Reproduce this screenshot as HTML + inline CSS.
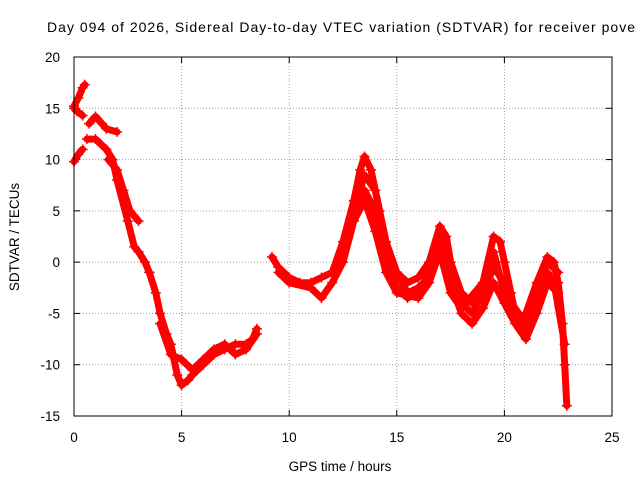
<!DOCTYPE html>
<html><head><meta charset="utf-8"><style>
html,body{margin:0;padding:0;background:#fff}
svg{display:block;font-family:"Liberation Sans",Arial,sans-serif}
</style></head><body>
<svg id="chart" width="640" height="480" viewBox="0 0 640 480">
<rect x="0" y="0" width="640" height="480" fill="#fff"/>
<text x="47" y="32" font-size="14" textLength="588" lengthAdjust="spacing" fill="#000">Day 094 of 2026, Sidereal Day-to-day VTEC variation (SDTVAR) for receiver pove</text>
<g id="grid"></g>
<g id="axes"></g>
<g id="series"></g>
<rect x="74" y="57" width="538" height="359" fill="none" stroke="#000" stroke-width="1"/>
<text x="340" y="471" font-size="13.5" text-anchor="middle">GPS time / hours</text>
<text x="0" y="0" font-size="13.5" text-anchor="middle" transform="translate(19,237) rotate(-90)">SDTVAR / TECUs</text>
</svg>
<script>
const xTicks=[0,5,10,15,20,25];
const yTicks=[-15,-10,-5,0,5,10,15,20];
const seriesA=[[0,9.8],[0.2,10.5],[0.4,11]];
const seriesB=[[0,15],[0.15,14.7],[0.4,14.3]];
const seriesC=[[0,15.2],[0.2,16],[0.4,17],[0.5,17.3]];
const seriesD=[[0.6,12],[1,12],[1.5,11],[1.8,10],[2,8],[2.5,4],[2.8,1.5],[3,1],[3.3,0],[3.5,-1]];
const seriesE=[[0.7,13.5],[1,14.2],[1.3,13.5],[1.5,13],[2,12.7]];
const seriesF=[[1.6,10],[2,9],[2.3,7],[2.6,5],[3,4]];
const seriesG=[[3.5,-1],[3.8,-3],[4,-5],[4.3,-7],[4.5,-8],[4.8,-11],[5,-12],[5.3,-11.5],[5.5,-11],[6,-10],[6.5,-9],[7,-8.5],[7.5,-8],[8,-8],[8.3,-7.5],[8.5,-6.5]];
const seriesH=[[4,-6],[4.5,-9],[5,-9.5],[5.5,-10.5],[6,-9.5],[6.5,-8.5],[7,-8],[7.5,-9],[8,-8.5],[8.5,-7]];
const seriesI=[[9.2,0.5],[9.5,-0.5],[10,-1.5],[10.5,-2],[11,-2],[11.5,-1.5],[12,-1],[12.5,2],[13,6],[13.3,9],[13.5,10.3],[13.8,9],[14.2,5],[14.5,1],[15,-1],[15.5,-2],[16,-1.5],[16.5,0],[17,3.5],[17.3,2.5],[17.5,0],[18,-3],[18.5,-4],[19,-2],[19.5,2.5],[19.8,2],[20,0],[20.3,-3],[20.6,-6],[21,-5],[21.5,-2],[22,0.5],[22.3,0],[22.5,-2],[22.7,-6],[22.8,-10],[22.9,-14]];
const seriesJ=[[9.5,-1],[10,-2],[11,-2.5],[11.5,-3.5],[12,-2],[12.5,0],[13,4],[13.5,7],[14,5],[14.5,0],[15,-2.5],[15.5,-3.5],[16,-3],[16.5,-1],[17,3],[17.5,-1],[18,-4],[18.5,-5],[19,-3],[19.5,-0.5],[20,-2],[20.5,-5],[21,-7],[21.5,-4],[22,-1],[22.3,-2],[22.8,-8]];
const seriesK=[[12.5,1],[13,5],[13.5,8.5],[14,7],[14.5,2],[15,-1],[15.5,-3],[16,-2.5],[16.5,-1.5],[17,2],[17.5,-2],[18,-5],[18.5,-6],[19,-4.5],[19.5,-2],[20,-4],[20.5,-6],[21,-7.5],[21.5,-5],[22,-2],[22.5,-3]];
const seriesL=[[13,4],[13.5,6],[14,3],[14.5,-1],[15,-3],[16,-3.5],[16.5,-2],[17,1],[17.5,-3],[18,-4.5],[19,-2],[19.5,1],[20,-3],[21,-6],[22,0],[22.5,-1]];
const allSeries=[seriesA,seriesB,seriesC,seriesD,seriesE,seriesF,seriesG,seriesH,seriesI,seriesJ,seriesK,seriesL];

const NS="http://www.w3.org/2000/svg";
const X0=74,X1=612,Y0=416,Y1=57;
function sx(v){return X0+(v-0)/(25-0)*(X1-X0);}
function sy(v){return Y0-(v-(-15))/(20-(-15))*(Y0-Y1);}
const grid=document.getElementById('grid'),axes=document.getElementById('axes'),ser=document.getElementById('series');
function mk(tag,attrs,parent){const e=document.createElementNS(NS,tag);for(const k in attrs)e.setAttribute(k,attrs[k]);parent.appendChild(e);return e;}
xTicks.forEach(t=>{
  const x=sx(t);
  if(t>0&&t<25){const g=mk('line',{x1:x,x2:x,y1:Y1,y2:Y0,stroke:'#a0a0a0','stroke-dasharray':'1,2','stroke-width':1},grid);
  
  }
  const a=mk('line',{x1:x,x2:x,y1:Y0,y2:Y0-6,stroke:'#000'},axes);
  
  
  const b=mk('line',{x1:x,x2:x,y1:Y1,y2:Y1+6,stroke:'#000'},axes);
  
  
  const l=mk('text',{x:x,y:Y0+26,'font-size':13.5,'text-anchor':'middle'},axes);
  l.textContent=t;
  
  
});
yTicks.forEach(t=>{
  const y=sy(t);
  if(t>-15&&t<20){const g=mk('line',{x1:X0,x2:X1,y1:y,y2:y,stroke:'#a0a0a0','stroke-dasharray':'1,2','stroke-width':1},grid);
  
  }
  const a=mk('line',{x1:X0,x2:X0+6,y1:y,y2:y,stroke:'#000'},axes);
  
  
  const b=mk('line',{x1:X1,x2:X1-6,y1:y,y2:y,stroke:'#000'},axes);
  
  
  const l=mk('text',{x:X0-14,y:y+5,'font-size':13.5,'text-anchor':'end'},axes);
  l.textContent=t;
  
  
});
allSeries.forEach((s,i)=>{
  const pts=s.map(p=>sx(p[0]).toFixed(1)+','+sy(p[1]).toFixed(1)).join(' ');
  const pl=mk('polyline',{points:pts,fill:'none',stroke:'#f00','stroke-width':7,'stroke-linejoin':'round','stroke-linecap':'round'},ser);
  
  
  s.forEach(p=>{
    const x=sx(p[0]),y=sy(p[1]);
    const m=mk('path',{d:`M${x-5},${y}H${x+5}M${x},${y-5}V${y+5}`,stroke:'#f00','stroke-width':1.5},ser);
    
    
  });
});
</script>
</body></html>
